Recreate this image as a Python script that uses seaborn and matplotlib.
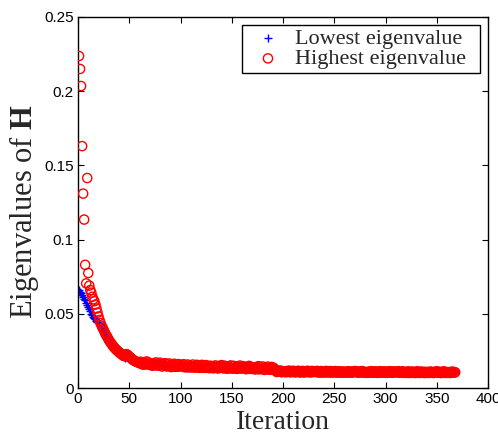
import matplotlib
matplotlib.use("Agg")
import matplotlib.pyplot as plt
import pandas as pd
import seaborn as sns

# eigenvalues per iteration
highest = [
    0.2237, 0.2150, 0.2035, 0.1630, 0.1310, 0.1135, 0.0830, 0.0705, 0.1415, 0.0775,
    0.0690, 0.0660, 0.0642, 0.0615, 0.0598, 0.0585, 0.0562, 0.0535, 0.0508, 0.0482,
    0.0458, 0.0438, 0.0420, 0.0405, 0.0392, 0.0376, 0.0362, 0.0350, 0.0338, 0.0325,
    0.0314, 0.0304, 0.0294, 0.0285, 0.0276, 0.0268, 0.0260, 0.0254, 0.0248, 0.0241,
    0.0236, 0.0230, 0.0225, 0.0219, 0.0215, 0.0222, 0.0228, 0.0225, 0.0219, 0.0212,
    0.0205, 0.0199, 0.0193, 0.0188, 0.0184, 0.0180, 0.0177, 0.0174, 0.0171, 0.0169,
    0.0177, 0.0161, 0.0169, 0.0157, 0.0173, 0.0165, 0.0179, 0.0159, 0.0171, 0.0159,
    0.0154, 0.0162, 0.0150, 0.0166, 0.0158, 0.0172, 0.0152, 0.0164, 0.0152, 0.0170,
    0.0157, 0.0145, 0.0161, 0.0153, 0.0167, 0.0147, 0.0159, 0.0147, 0.0165, 0.0149,
    0.0141, 0.0157, 0.0149, 0.0163, 0.0143, 0.0155, 0.0143, 0.0161, 0.0145, 0.0153,
    0.0154, 0.0146, 0.0160, 0.0140, 0.0152, 0.0140, 0.0158, 0.0142, 0.0150, 0.0138,
    0.0144, 0.0158, 0.0138, 0.0150, 0.0138, 0.0156, 0.0140, 0.0148, 0.0136, 0.0152,
    0.0156, 0.0136, 0.0148, 0.0136, 0.0154, 0.0138, 0.0146, 0.0134, 0.0150, 0.0142,
    0.0134, 0.0146, 0.0134, 0.0152, 0.0136, 0.0144, 0.0132, 0.0148, 0.0140, 0.0154,
    0.0144, 0.0132, 0.0150, 0.0134, 0.0142, 0.0130, 0.0146, 0.0138, 0.0152, 0.0132,
    0.0131, 0.0149, 0.0133, 0.0141, 0.0129, 0.0145, 0.0137, 0.0151, 0.0131, 0.0143,
    0.0147, 0.0131, 0.0139, 0.0127, 0.0143, 0.0135, 0.0149, 0.0129, 0.0141, 0.0129,
    0.0129, 0.0137, 0.0125, 0.0141, 0.0133, 0.0147, 0.0127, 0.0139, 0.0127, 0.0145,
    0.0134, 0.0122, 0.0138, 0.0130, 0.0144, 0.0124, 0.0136, 0.0124, 0.0142, 0.0126,
    0.0135, 0.0125, 0.0116, 0.0108, 0.0115, 0.0110, 0.0118, 0.0108, 0.0114, 0.0109,
    0.0108, 0.0112, 0.0106, 0.0114, 0.0110, 0.0117, 0.0107, 0.0113, 0.0107, 0.0116,
    0.0111, 0.0105, 0.0113, 0.0109, 0.0116, 0.0106, 0.0112, 0.0106, 0.0115, 0.0107,
    0.0105, 0.0113, 0.0109, 0.0116, 0.0106, 0.0112, 0.0106, 0.0115, 0.0107, 0.0111,
    0.0112, 0.0108, 0.0115, 0.0105, 0.0111, 0.0105, 0.0114, 0.0106, 0.0110, 0.0104,
    0.0108, 0.0115, 0.0105, 0.0111, 0.0105, 0.0114, 0.0106, 0.0110, 0.0104, 0.0112,
    0.0114, 0.0104, 0.0110, 0.0104, 0.0113, 0.0105, 0.0109, 0.0103, 0.0111, 0.0107,
    0.0104, 0.0110, 0.0104, 0.0113, 0.0105, 0.0109, 0.0103, 0.0111, 0.0107, 0.0114,
    0.0113, 0.0105, 0.0109, 0.0103, 0.0111, 0.0107, 0.0114, 0.0104, 0.0110, 0.0104,
    0.0104, 0.0108, 0.0102, 0.0110, 0.0106, 0.0113, 0.0103, 0.0109, 0.0103, 0.0112,
    0.0108, 0.0102, 0.0110, 0.0106, 0.0113, 0.0103, 0.0109, 0.0103, 0.0112, 0.0104,
    0.0102, 0.0110, 0.0106, 0.0113, 0.0103, 0.0109, 0.0103, 0.0112, 0.0104, 0.0108,
    0.0110, 0.0106, 0.0113, 0.0103, 0.0109, 0.0103, 0.0112, 0.0104, 0.0108, 0.0102,
    0.0105, 0.0112, 0.0102, 0.0108, 0.0102, 0.0111, 0.0103, 0.0107, 0.0101, 0.0109,
    0.0112, 0.0102, 0.0108, 0.0102, 0.0111, 0.0103, 0.0107, 0.0101, 0.0109, 0.0105,
    0.0102, 0.0108, 0.0102, 0.0111, 0.0103, 0.0107, 0.0101, 0.0109, 0.0105, 0.0112,
    0.0111, 0.0103, 0.0107, 0.0101, 0.0109, 0.0105, 0.0112, 0.0102, 0.0108, 0.0102,
    0.0103, 0.0107, 0.0101, 0.0109, 0.0105, 0.0110, 0.0104, 0.0106,
]

lowest = [
    0.0662, 0.0650, 0.0640, 0.0628, 0.0612, 0.0600, 0.0590, 0.0575, 0.0560, 0.0545,
    0.0535, 0.0520, 0.0502, 0.0490, 0.0480, 0.0472, 0.0462, 0.0452, 0.0445, 0.0438,
    0.0432, 0.0420, 0.0410, 0.0398, 0.0385, 0.0372, 0.0358, 0.0346, 0.0334, 0.0322,
    0.0311, 0.0300, 0.0290, 0.0281, 0.0272, 0.0264, 0.0256, 0.0250, 0.0244, 0.0237,
    0.0231, 0.0226, 0.0220, 0.0215, 0.0210, 0.0205, 0.0212, 0.0218, 0.0214, 0.0207,
    0.0200, 0.0194, 0.0189, 0.0184, 0.0180, 0.0176, 0.0172, 0.0169, 0.0166, 0.0163,
    0.0167, 0.0163, 0.0168, 0.0164, 0.0166, 0.0155, 0.0169, 0.0165, 0.0167, 0.0166,
    0.0160, 0.0156, 0.0161, 0.0157, 0.0159, 0.0148, 0.0162, 0.0158, 0.0160, 0.0159,
    0.0155, 0.0151, 0.0156, 0.0152, 0.0154, 0.0143, 0.0157, 0.0153, 0.0155, 0.0154,
    0.0151, 0.0147, 0.0152, 0.0148, 0.0150, 0.0139, 0.0153, 0.0149, 0.0151, 0.0150,
    0.0148, 0.0144, 0.0149, 0.0145, 0.0147, 0.0136, 0.0150, 0.0146, 0.0148, 0.0147,
    0.0146, 0.0142, 0.0147, 0.0143, 0.0145, 0.0134, 0.0148, 0.0144, 0.0146, 0.0145,
    0.0144, 0.0140, 0.0145, 0.0141, 0.0143, 0.0132, 0.0146, 0.0142, 0.0144, 0.0143,
    0.0142, 0.0138, 0.0143, 0.0139, 0.0141, 0.0130, 0.0144, 0.0140, 0.0142, 0.0141,
    0.0140, 0.0136, 0.0141, 0.0137, 0.0139, 0.0128, 0.0142, 0.0138, 0.0140, 0.0139,
    0.0139, 0.0135, 0.0140, 0.0136, 0.0138, 0.0127, 0.0141, 0.0137, 0.0139, 0.0138,
    0.0137, 0.0133, 0.0138, 0.0134, 0.0136, 0.0125, 0.0139, 0.0135, 0.0137, 0.0136,
    0.0135, 0.0131, 0.0136, 0.0132, 0.0134, 0.0123, 0.0137, 0.0133, 0.0135, 0.0134,
    0.0132, 0.0128, 0.0133, 0.0129, 0.0131, 0.0120, 0.0134, 0.0130, 0.0132, 0.0131,
    0.0129, 0.0125, 0.0112, 0.0108, 0.0113, 0.0109, 0.0111, 0.0098, 0.0114, 0.0110,
    0.0111, 0.0107, 0.0112, 0.0108, 0.0110, 0.0103, 0.0111, 0.0109, 0.0110, 0.0109,
    0.0110, 0.0106, 0.0111, 0.0107, 0.0109, 0.0102, 0.0110, 0.0108, 0.0109, 0.0108,
    0.0110, 0.0106, 0.0111, 0.0107, 0.0109, 0.0102, 0.0110, 0.0108, 0.0109, 0.0108,
    0.0109, 0.0105, 0.0110, 0.0106, 0.0108, 0.0101, 0.0109, 0.0107, 0.0108, 0.0107,
    0.0109, 0.0105, 0.0110, 0.0106, 0.0108, 0.0101, 0.0109, 0.0107, 0.0108, 0.0107,
    0.0108, 0.0104, 0.0109, 0.0105, 0.0107, 0.0100, 0.0108, 0.0106, 0.0107, 0.0106,
    0.0108, 0.0104, 0.0109, 0.0105, 0.0107, 0.0100, 0.0108, 0.0106, 0.0107, 0.0106,
    0.0108, 0.0104, 0.0109, 0.0105, 0.0107, 0.0100, 0.0108, 0.0106, 0.0107, 0.0106,
    0.0107, 0.0103, 0.0108, 0.0104, 0.0106, 0.0099, 0.0107, 0.0105, 0.0106, 0.0105,
    0.0107, 0.0103, 0.0108, 0.0104, 0.0106, 0.0099, 0.0107, 0.0105, 0.0106, 0.0105,
    0.0107, 0.0103, 0.0108, 0.0104, 0.0106, 0.0099, 0.0107, 0.0105, 0.0106, 0.0105,
    0.0107, 0.0103, 0.0108, 0.0104, 0.0106, 0.0099, 0.0107, 0.0105, 0.0106, 0.0105,
    0.0106, 0.0102, 0.0107, 0.0103, 0.0105, 0.0098, 0.0106, 0.0104, 0.0105, 0.0104,
    0.0106, 0.0102, 0.0107, 0.0103, 0.0105, 0.0098, 0.0106, 0.0104, 0.0105, 0.0104,
    0.0106, 0.0102, 0.0107, 0.0103, 0.0105, 0.0098, 0.0106, 0.0104, 0.0105, 0.0104,
    0.0106, 0.0102, 0.0107, 0.0103, 0.0105, 0.0098, 0.0106, 0.0104, 0.0105, 0.0104,
    0.0106, 0.0102, 0.0107, 0.0103, 0.0105, 0.0104, 0.0105, 0.0106,
]

iterations = list(range(1, len(highest) + 1))

x_ticks = [0, 50, 100, 150, 200, 250, 300, 350, 400]
y_ticks = [0, 0.05, 0.1, 0.15, 0.2, 0.25]
y_tick_labels = ["0", "0.05", "0.1", "0.15", "0.2", "0.25"]

df = pd.DataFrame({"iteration": iterations, "lowest": lowest, "highest": highest})

sns.set_style("ticks")
plt.rcParams["font.family"] = ["Liberation Sans", "DejaVu Sans"]
plt.rcParams["mathtext.fontset"] = "custom"
plt.rcParams["mathtext.rm"] = "Liberation Serif"
plt.rcParams["mathtext.bf"] = "Liberation Serif:bold"
plt.rcParams["xtick.direction"] = "in"
plt.rcParams["ytick.direction"] = "in"
plt.rcParams["xtick.top"] = True
plt.rcParams["ytick.right"] = True

fig = plt.figure(figsize=(4.98, 4.33), dpi=100)
ax = fig.add_axes([78 / 498, 1 - 388 / 433, 410 / 498, 371 / 433])

sns.scatterplot(data=df, x="iteration", y="lowest", marker="+", color="blue",
                s=34, linewidth=1.0, ax=ax, label="Lowest eigenvalue  ", zorder=2)
sns.scatterplot(data=df, x="iteration", y="highest", marker="o", facecolors="none",
                edgecolor="red", s=44, linewidth=1.0, ax=ax,
                label="Highest eigenvalue  ", zorder=3)

ax.set_xlim(0, 400)
ax.set_ylim(0, 0.25)
ax.set_xticks(x_ticks)
ax.set_yticks(y_ticks)
ax.set_yticklabels(y_tick_labels)
ax.tick_params(labelsize=11, length=4, width=0.8, pad=3, colors="black")
for sp in ax.spines.values():
    sp.set_linewidth(1.0)
    sp.set_color("black")

ax.set_xlabel("Iteration", fontsize=20, family="Liberation Serif", labelpad=2.5)
ax.set_ylabel(r"Eigenvalues of $\mathbf{H}$", fontsize=22, family="Liberation Serif",
              labelpad=2, y=0.476)

leg = ax.legend(loc="upper right", prop={"family": "Liberation Serif", "size": 16},
                frameon=True, fancybox=False, edgecolor="black", framealpha=1,
                borderpad=0.15, labelspacing=0.0, handlelength=2.0, handletextpad=0.2,
                borderaxespad=0.35)
leg.get_frame().set_linewidth(1.0)

fig.savefig("out.png", dpi=100)
